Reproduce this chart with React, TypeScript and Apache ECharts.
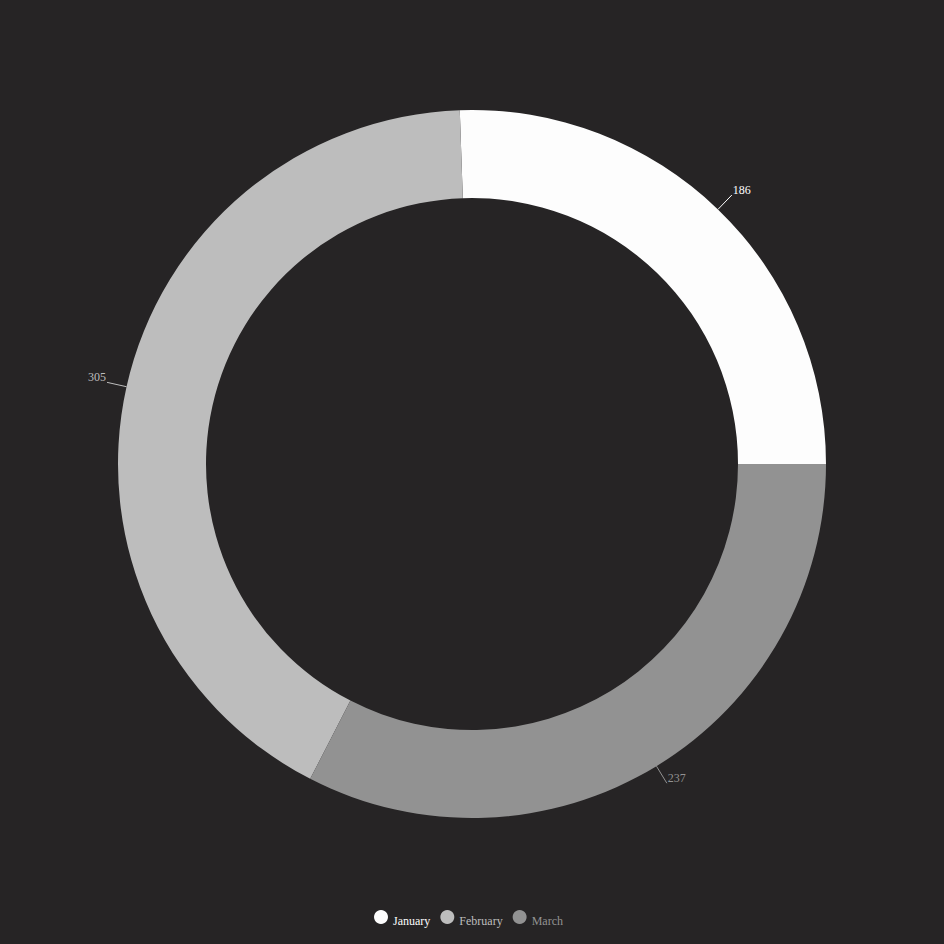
import { useEffect, useRef } from "react";
import * as echarts from "echarts";

const MONTHS = ["January", "February", "March"];
const VALUES = [186, 305, 237];
const COLORS = ["#fdfdfd", "#bdbdbd", "#929292"];
const FONT = "Liberation Serif, serif";

export default function App() {
  const chartRef = useRef<HTMLDivElement>(null);

  useEffect(() => {
    if (!chartRef.current) return;
    document.body.style.margin = "0";
    const chart = echarts.init(chartRef.current, null, { renderer: "svg" });

    chart.setOption({
      animation: false,
      backgroundColor: "#262425",
      textStyle: { fontFamily: FONT },
      legend: {
        bottom: 12,
        left: 369,
        icon: "circle",
        itemWidth: 14,
        itemHeight: 14,
        itemGap: 10,
        formatter: (name: string) => `{t|${name}}`,
        data: MONTHS.map((m, i) => ({
          name: m,
          textStyle: {
            color: COLORS[i],
            fontSize: 12,
            fontFamily: FONT,
            rich: {
              t: { color: COLORS[i], fontSize: 12, fontFamily: FONT, padding: [8, 0, 0, 0] },
            },
          },
        })),
      },
      series: [
        {
          type: "pie",
          center: [472, 464],
          radius: [266, 354],
          startAngle: 0,
          clockwise: false,
          data: MONTHS.map((m, i) => ({
            name: m,
            value: VALUES[i],
            itemStyle: { color: COLORS[i] },
            label: {
              color: COLORS[i],
              rich: {
                v: { color: COLORS[i], fontSize: 12, fontFamily: FONT, padding: [0, 0, 10, 0] },
              },
            },
            labelLine: { lineStyle: { color: COLORS[i] } },
          })),
          label: {
            show: true,
            formatter: (p: { value: number }) => `{v|${p.value}}`,
            fontSize: 12,
            fontFamily: FONT,
            distanceToLabelLine: 1,
          },
          labelLine: { show: true, length: 20, length2: 0 },
        },
      ],
    });

    return () => chart.dispose();
  }, []);

  return <div ref={chartRef} style={{ width: 944, height: 944 }} />;
}
